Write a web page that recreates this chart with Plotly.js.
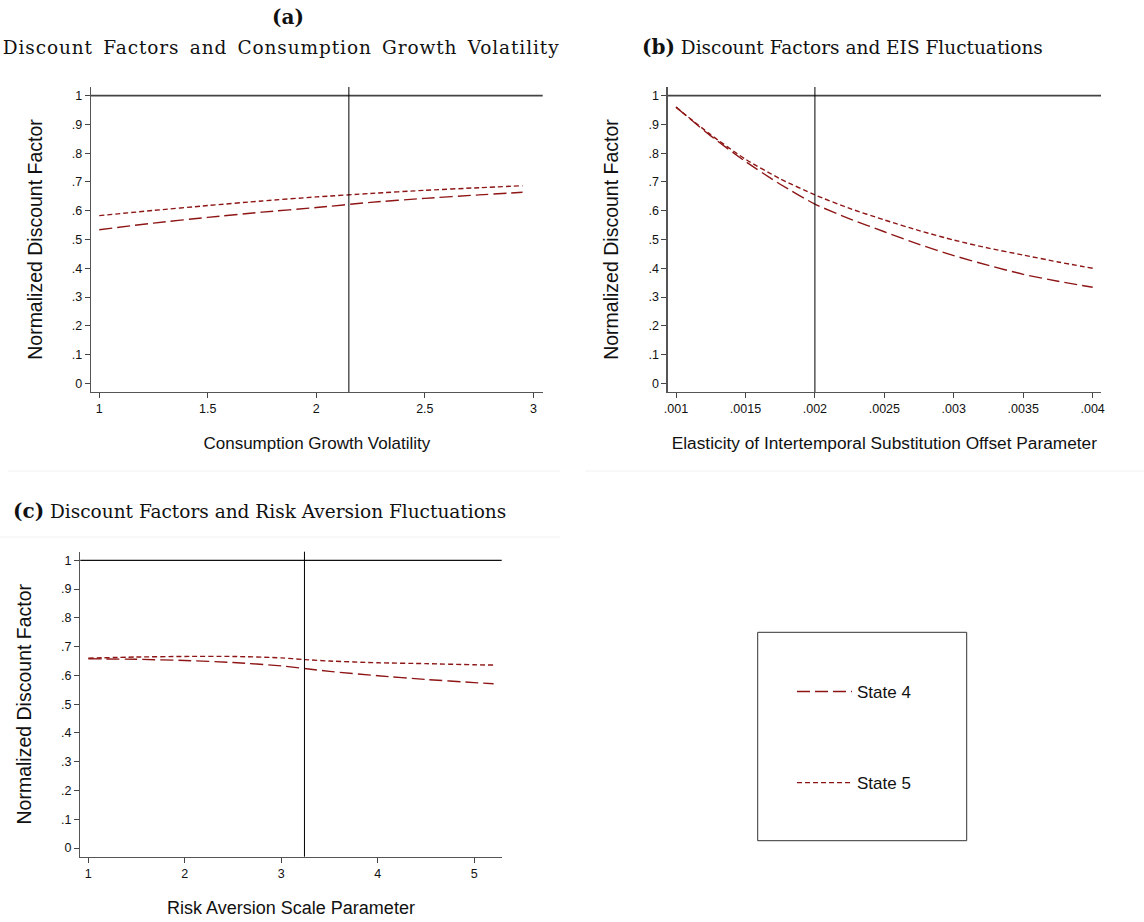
<!DOCTYPE html>
<html>
<head>
<meta charset="utf-8">
<script src="https://cdn.plot.ly/plotly-3.0.1.min.js"></script>
<style>
html,body{margin:0;padding:0;background:#fff;}
#chart{width:1144px;height:922px;}
g.annotation[data-index="1"] text{letter-spacing:0.9px;word-spacing:3.5px;}
</style>
</head>
<body>
<div id="chart"></div>
<script>
// ---- Data ----
const seriesNames = ["State 4", "State 5"];

// Panel (a): Consumption growth volatility
const volX = [1, 1.25, 1.5, 1.75, 2, 2.25, 2.5, 2.75, 2.95];
const volState4 = [0.534, 0.557, 0.577, 0.595, 0.611, 0.629, 0.643, 0.655, 0.664];
const volState5 = [0.583, 0.601, 0.618, 0.634, 0.648, 0.660, 0.671, 0.680, 0.687];
const volRef = 2.15;

// Panel (b): EIS offset parameter
const eisX = [0.001, 0.00125, 0.0015, 0.00175, 0.002, 0.00225, 0.0025, 0.00275, 0.003, 0.00325, 0.0035, 0.00375, 0.004];
const eisState4 = [0.960, 0.860, 0.771, 0.692, 0.623, 0.572, 0.527, 0.483, 0.444, 0.410, 0.379, 0.355, 0.334];
const eisState5 = [0.960, 0.864, 0.779, 0.711, 0.655, 0.608, 0.568, 0.531, 0.498, 0.470, 0.446, 0.422, 0.400];
const eisRef = 0.002;

// Panel (c): Risk aversion scale parameter
const raX = [1, 1.5, 2, 2.5, 3, 3.24, 3.5, 4, 4.5, 5, 5.2];
const raState4 = [0.658, 0.656, 0.652, 0.645, 0.633, 0.624, 0.614, 0.599, 0.586, 0.575, 0.571];
const raState5 = [0.660, 0.664, 0.666, 0.666, 0.661, 0.655, 0.650, 0.644, 0.641, 0.637, 0.636];
const raRef = 3.24;

// Tick labels
const yTickVals = [0, 0.1, 0.2, 0.3, 0.4, 0.5, 0.6, 0.7, 0.8, 0.9, 1];
const yTickText = ["0", ".1", ".2", ".3", ".4", ".5", ".6", ".7", ".8", ".9", "1"];
const volTickVals = [1, 1.5, 2, 2.5, 3];
const volTickText = ["1", "1.5", "2", "2.5", "3"];
const eisTickVals = [0.001, 0.0015, 0.002, 0.0025, 0.003, 0.0035, 0.004];
const eisTickText = [".001", ".0015", ".002", ".0025", ".003", ".0035", ".004"];
const raTickVals = [1, 2, 3, 4, 5];
const raTickText = ["1", "2", "3", "4", "5"];

// ---- Styles ----
const lineColor = "#8e1515";
const dash4 = "13px,5px";
const dash5 = "5px,3px";
const W = 1144, H = 922;
const px = v => v / W;
const py = v => 1 - v / H;

function tr(x, y, name, dash, xa, ya, show) {
  return {
    type: "scatter", mode: "lines", x: x, y: y, name: name,
    xaxis: xa, yaxis: ya, showlegend: show, legendgroup: name,
    line: {color: lineColor, width: 1.4, dash: dash, shape: "spline", smoothing: 0.6},
    hoverinfo: "skip"
  };
}

const data = [
  tr(volX, volState4, seriesNames[0], dash4, "x", "y", true),
  tr(volX, volState5, seriesNames[1], dash5, "x", "y", true),
  tr(eisX, eisState4, seriesNames[0], dash4, "x2", "y2", false),
  tr(eisX, eisState5, seriesNames[1], dash5, "x2", "y2", false),
  tr(raX, raState4, seriesNames[0], dash4, "x3", "y3", false),
  tr(raX, raState5, seriesNames[1], dash5, "x3", "y3", false)
];

const sans = "Liberation Sans, Arial, sans-serif";
const tickFont = {family: sans, size: 12.5, color: "#111"};

function xax(domain, range, vals, text, title, anchor, fs) {
  return {
    domain: domain, range: range, anchor: anchor,
    tickmode: "array", tickvals: vals, ticktext: text,
    ticks: "outside", ticklen: 5, tickwidth: 1, tickcolor: "#444",
    showline: true, linecolor: "#555", linewidth: 1.3, mirror: false,
    showgrid: false, zeroline: false, tickfont: tickFont,
    title: {text: title, font: {family: sans, size: fs, color: "#111"}, standoff: 21}
  };
}
function yax(domain, anchor, title) {
  return {
    domain: domain, range: [-0.03, 1.03], anchor: anchor,
    tickmode: "array", tickvals: yTickVals, ticktext: yTickText,
    ticks: "outside", ticklen: 5, tickwidth: 1, tickcolor: "#444",
    showline: true, linecolor: "#555", linewidth: 1.3, mirror: false,
    showgrid: false, zeroline: false, tickfont: tickFont,
    title: {text: title, font: {family: sans, size: 19.5, color: "#111"}, standoff: 24}
  };
}

const yTitle = "Normalized Discount Factor";
const topDom = [py(392), py(87)];
const botDom = [py(856.7), py(551.7)];
const serif = "DejaVu Serif, serif";

const layout = {
  width: W, height: H,
  margin: {l: 0, r: 0, t: 0, b: 0},
  paper_bgcolor: "#fff", plot_bgcolor: "#fff",
  xaxis: xax([px(91), px(542.7)], [0.962, 3.043], volTickVals, volTickText, "Consumption Growth Volatility", "y", 17),
  yaxis: yax(topDom, "x", yTitle),
  xaxis2: xax([px(667.7), px(1101)], [0.00094, 0.00406], eisTickVals, eisTickText, "Elasticity of Intertemporal Substitution Offset Parameter", "y2", 17.3),
  yaxis2: yax(topDom, "x2", yTitle),
  xaxis3: xax([px(80.3), px(501.7)], [0.917, 5.284], raTickVals, raTickText, "Risk Aversion Scale Parameter", "y3", 18),
  yaxis3: yax(botDom, "x3", yTitle),
  showlegend: true,
  legend: {
    x: px(792), y: py(674), xanchor: "left", yanchor: "top",
    font: {family: sans, size: 17, color: "#111"},
    bgcolor: "rgba(0,0,0,0)", borderwidth: 0,
    traceorder: "grouped", tracegroupgap: 66, itemwidth: 55
  },
  shapes: [
    // y = 1 reference lines
    {type: "line", xref: "x domain", yref: "y", x0: 0, x1: 1, y0: 1, y1: 1, line: {color: "#444", width: 1.6}},
    {type: "line", xref: "x2 domain", yref: "y2", x0: 0, x1: 1, y0: 1, y1: 1, line: {color: "#444", width: 1.6}},
    {type: "line", xref: "x3 domain", yref: "y3", x0: 0, x1: 1, y0: 1, y1: 1, line: {color: "#111", width: 1.3}},
    // vertical reference lines
    {type: "line", xref: "x", yref: "y domain", x0: volRef, x1: volRef, y0: 0, y1: 1, line: {color: "#000", width: 1}},
    {type: "line", xref: "x2", yref: "y2 domain", x0: eisRef, x1: eisRef, y0: 0, y1: 1, line: {color: "#000", width: 1}},
    {type: "line", xref: "x3", yref: "y3 domain", x0: raRef, x1: raRef, y0: 0, y1: 1, line: {color: "#000", width: 1}},
    // legend box
    {type: "rect", xref: "paper", yref: "paper", x0: px(757.7), x1: px(966.7), y0: py(840.7), y1: py(632.3), line: {color: "#333", width: 1}},
    // faint panel separators
    {type: "line", xref: "paper", yref: "paper", x0: px(8), x1: px(560), y0: py(471), y1: py(471), line: {color: "#f2f2f2", width: 1}},
    {type: "line", xref: "paper", yref: "paper", x0: px(585), x1: px(1144), y0: py(471), y1: py(471), line: {color: "#f2f2f2", width: 1}},
    {type: "line", xref: "paper", yref: "paper", x0: px(0), x1: px(560), y0: py(537), y1: py(537), line: {color: "#f2f2f2", width: 1}}
  ],
  annotations: [
    {xref: "paper", yref: "paper", x: px(288), y: py(17), xanchor: "center", yanchor: "middle", showarrow: false,
     text: "<b>(a)</b>", font: {family: serif, size: 20, color: "#111"}},
    {xref: "paper", yref: "paper", x: px(281), y: py(48), xanchor: "center", yanchor: "middle", showarrow: false,
     text: "Discount Factors and Consumption Growth Volatility", font: {family: serif, size: 18.5, color: "#111"}},
    {xref: "paper", yref: "paper", x: px(640), y: py(47), xanchor: "left", yanchor: "middle", showarrow: false,
     text: "<b><span style='font-size:20px'>(b)</span></b> Discount Factors and EIS Fluctuations", font: {family: serif, size: 18.5, color: "#111"}},
    {xref: "paper", yref: "paper", x: px(11), y: py(511), xanchor: "left", yanchor: "middle", showarrow: false,
     text: "<b><span style='font-size:20px'>(c)</span></b> Discount Factors and Risk Aversion Fluctuations", font: {family: serif, size: 18.5, color: "#111"}}
  ]
};

Plotly.newPlot("chart", data, layout, {staticPlot: true, displayModeBar: false});
</script>
</body>
</html>
